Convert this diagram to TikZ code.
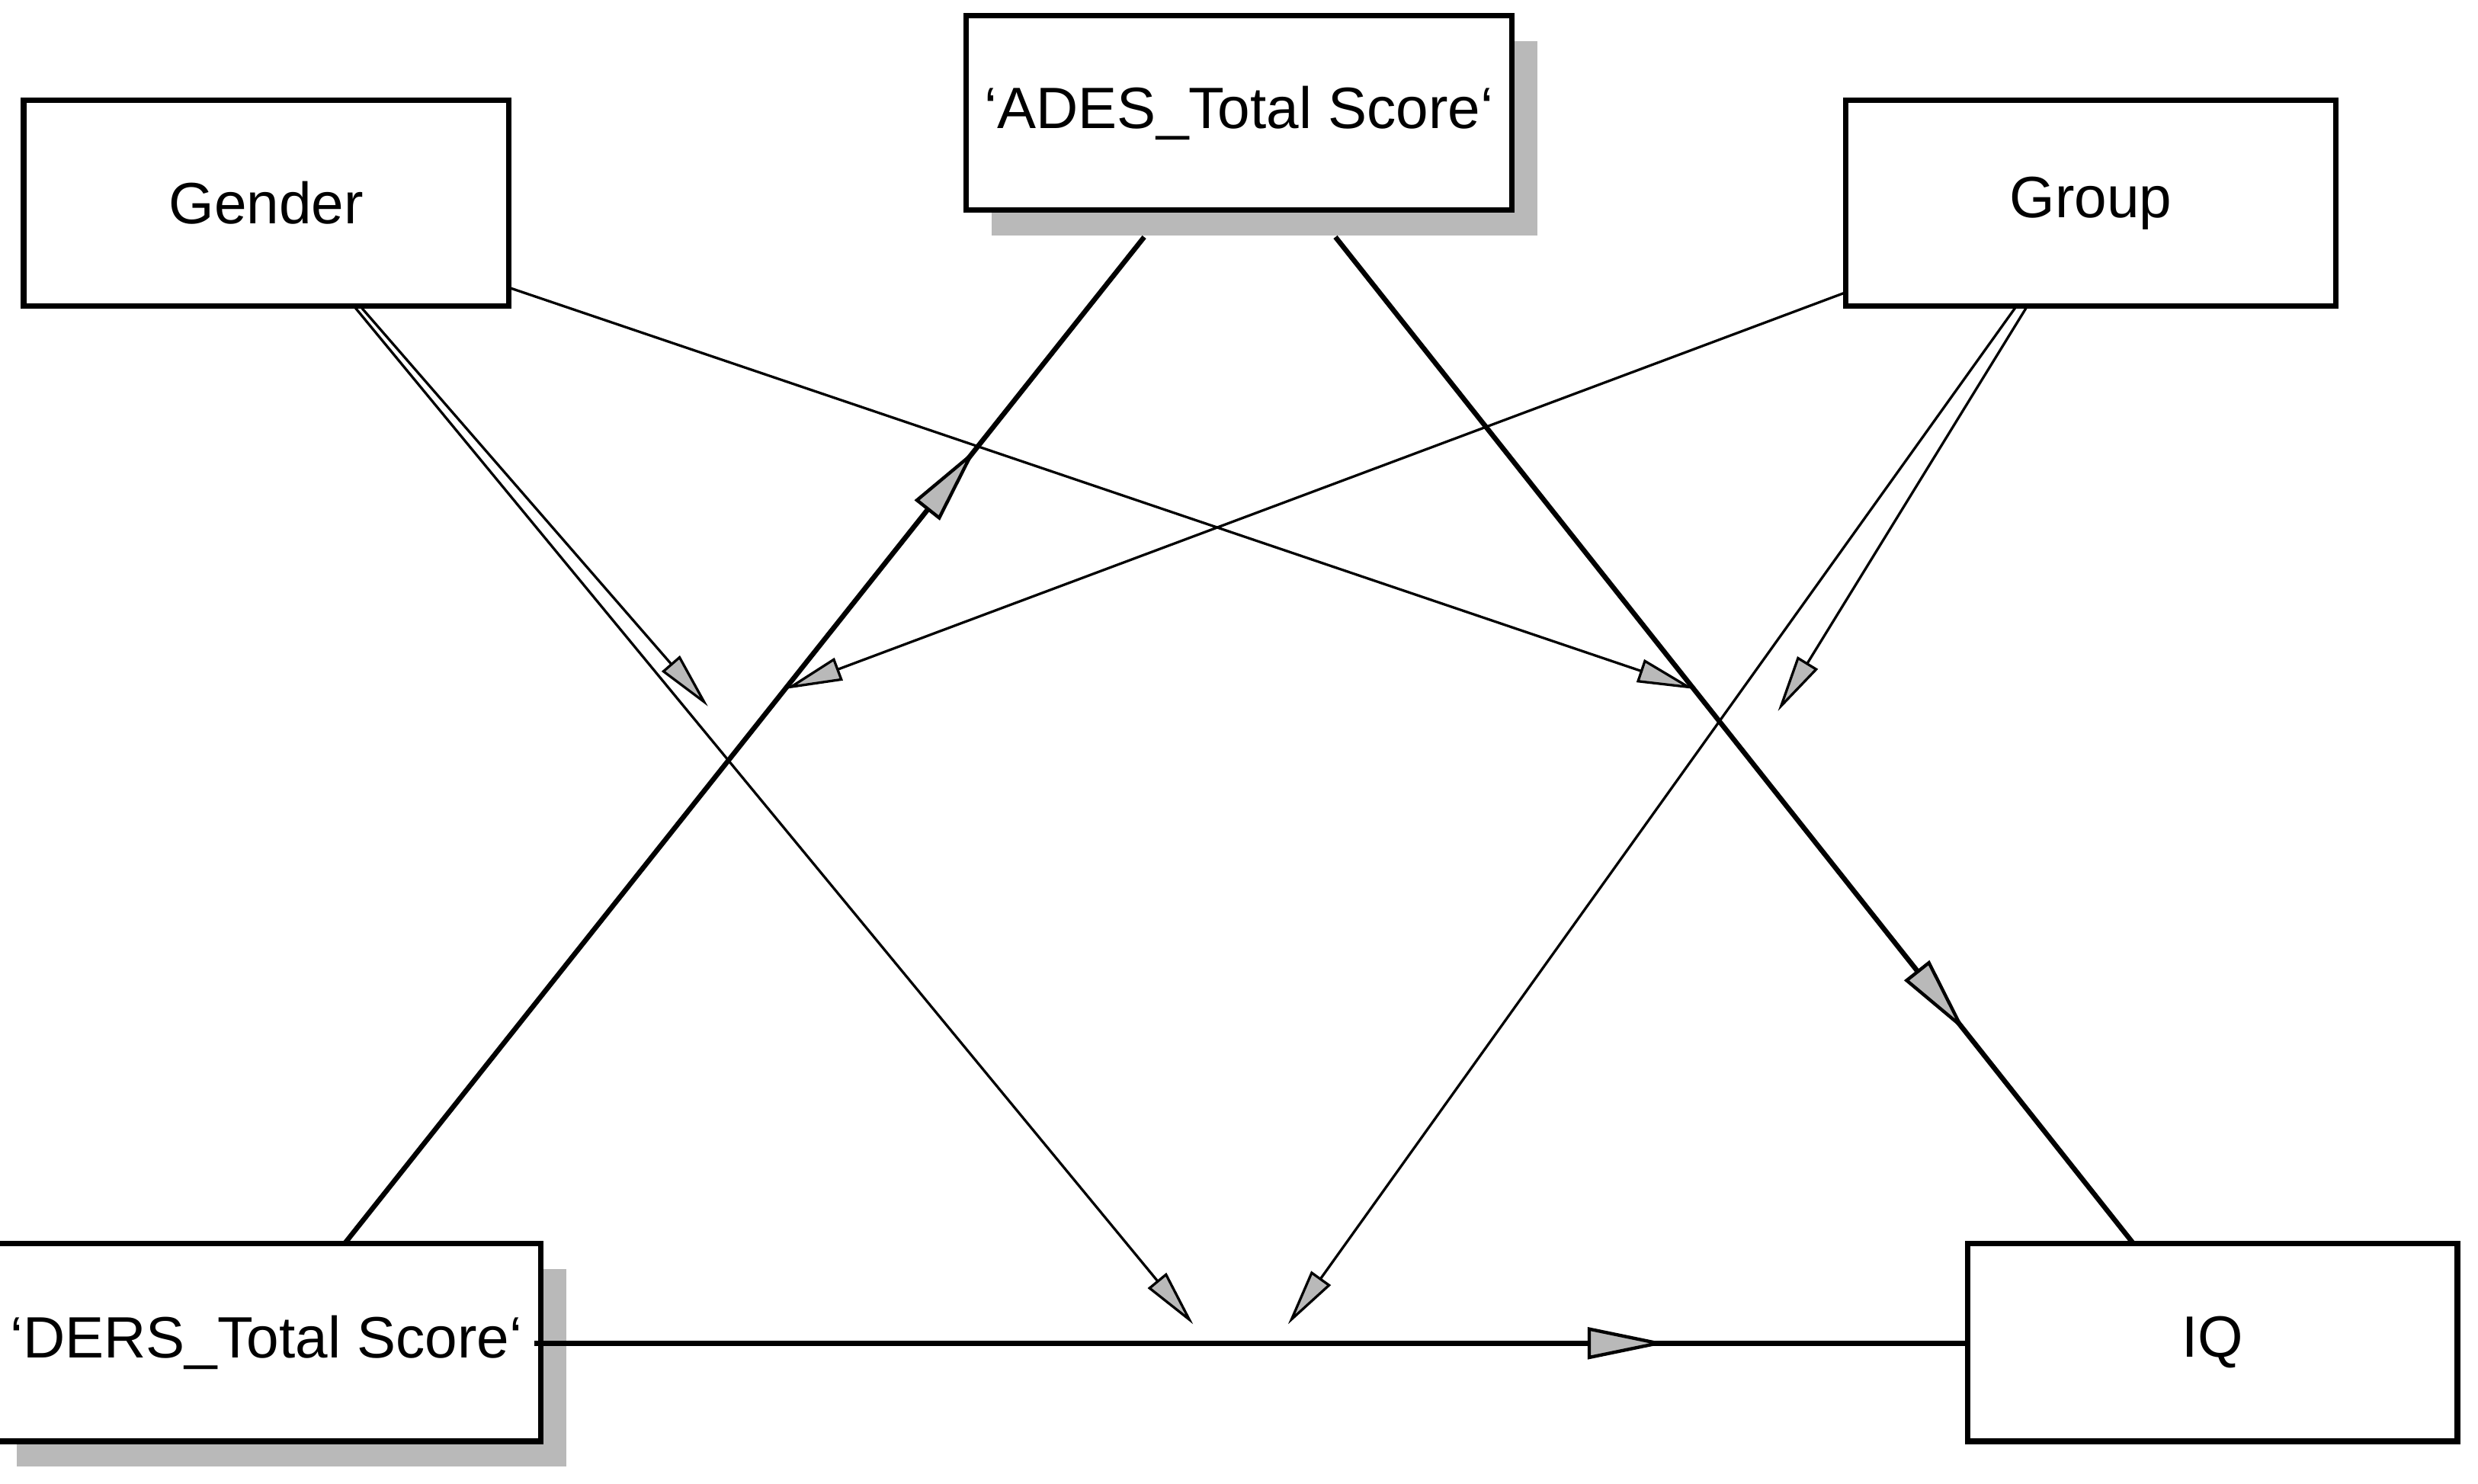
\documentclass[tikz,border=0pt]{standalone}
\usepackage{fontspec}
\setmainfont{Liberation Sans}
\usetikzlibrary{arrows.meta,shadows,decorations.markings}
\tikzset{
  var/.style={draw, line width=1pt, fill=white, minimum width=3.07cm, minimum height=1.3cm, font=\fontsize{10.5}{12}\selectfont},
  shadowed/.style={drop shadow={shadow xshift=0.16cm, shadow yshift=-0.16cm, fill=gray!55, opacity=1}},
  tip/.style={-{Triangle[length=0.36cm, width=0.15cm, fill=gray!55]}, line width=0.45pt},
  path/.style={line width=0.9pt, postaction={decorate}, decoration={markings,
      mark=at position 0.79 with {\arrow{Triangle[length=0.5cm, width=0.2cm, fill=gray!55, line width=0.6pt]}}}}
}
\begin{document}
\begin{tikzpicture}
  \useasboundingbox (0,0) rectangle (15.68,9.39);

  % variables
  \node[var] (gender) at (1.685,8.105) {Gender};
  \node[var, shadowed, minimum width=3.08cm, minimum height=1.23cm] (ades) at (7.84,8.675) {`ADES\_Total Score`};
  \node[var, minimum width=3.1cm] (group) at (13.23,8.105) {Group};
  \node[var, shadowed, minimum height=1.25cm] (ders) at (1.685,0.895) {`DERS\_Total Score`};
  \node[var, minimum width=3.1cm, minimum height=1.25cm] (iq) at (14.0,0.895) {IQ};

  % end points of the paths
  \coordinate (dersTop) at (2.18,1.52);
  \coordinate (adesLeft) at (7.24,7.89);
  \coordinate (adesRight) at (8.45,7.89);
  \coordinate (iqTop) at (13.5,1.52);
  \coordinate (dersRight) at (3.38,0.89);
  \coordinate (iqLeft) at (12.45,0.89);

  % main paths
  \draw[path] (dersTop) -- (adesLeft);
  \draw[path] (adesRight) -- (iqTop);
  \draw[path] (dersRight) -- (iqLeft);

  % moderators
  \coordinate (genderA) at (2.25,7.44);
  \coordinate (genderB) at (2.29,7.44);
  \coordinate (genderC) at (3.22,7.57);
  \coordinate (groupA) at (11.68,7.54);
  \coordinate (groupB) at (12.75,7.44);
  \coordinate (groupC) at (12.82,7.44);
  \coordinate (modA) at (4.48,4.92);
  \coordinate (modB) at (7.55,1.01);
  \coordinate (modC) at (10.72,5.03);
  \coordinate (modD) at (4.97,5.03);
  \coordinate (modE) at (8.15,1.01);
  \coordinate (modF) at (11.25,4.89);

  \draw[tip] (genderB) -- (modA);
  \draw[tip] (genderA) -- (modB);
  \draw[tip] (genderC) -- (modC);
  \draw[tip] (groupA) -- (modD);
  \draw[tip] (groupB) -- (modE);
  \draw[tip] (groupC) -- (modF);
\end{tikzpicture}
\end{document}
